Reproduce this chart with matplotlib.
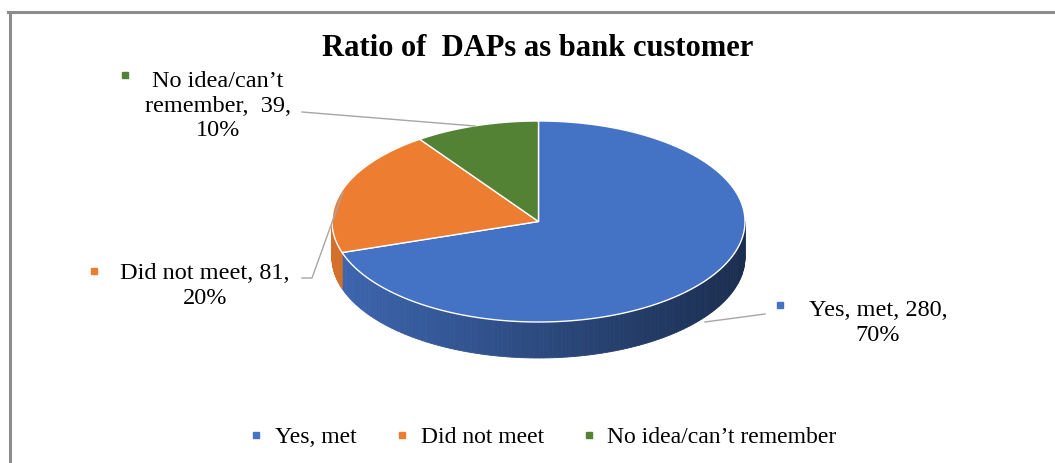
import numpy as np
import matplotlib
matplotlib.use('Agg')
import matplotlib.pyplot as plt
from matplotlib.patches import Polygon
from matplotlib.lines import Line2D
from matplotlib.colors import to_rgb

# data
categories = ['Yes, met', 'Did not meet', 'No idea/can\u2019t remember']
counts = [280, 81, 39]
percents = [70, 20, 10]
colors = ['#4472C4', '#ED7D31', '#548235']
title = 'Ratio of  DAPs as bank customer'

# label text as excel wrapped it
label_texts = [
    'Yes, met, 280,\n70%',
    'Did not meet, 81,\n20%',
    'No idea/can\u2019t\nremember,  39,\n10%',
]

plt.rcParams['font.family'] = ['Liberation Serif', 'DejaVu Serif']

W, H = 1055, 463
fig = plt.figure(figsize=(W / 100, H / 100), dpi=100)
ax = fig.add_axes([0, 0, 1, 1])
ax.set_xlim(0, W)
ax.set_ylim(H, 0)
ax.axis('off')

# chart frame (only top and left edges are visible in the crop)
ax.add_line(Line2D([8, W], [12, 12], color='#8C8C8C', lw=2.2))
ax.add_line(Line2D([9.5, 9.5], [12, H], color='#8C8C8C', lw=2.2))

# 3d pie geometry in pixel space
cx, cy, rx, ry, depth = 538.5, 221.5, 206.5, 100.5, 36


def ell(a):
    a = np.radians(a)
    return cx + rx * np.cos(a), cy - ry * np.sin(a)


total = float(sum(counts))
bounds = []
start = 90.0
for c in counts:
    end = start - c / total * 360.0
    bounds.append((start, end))
    start = end

# side walls first (front half only), shaded left -> right
for (a0, a1), col in zip(bounds, colors):
    base = np.array(to_rgb(col))
    angs = np.linspace(a0, a1, 200)
    for t0, t1 in zip(angs[:-1], angs[1:]):
        tm = (t0 + t1) / 2
        if np.sin(np.radians(tm)) >= 0:
            continue
        x0, y0 = ell(t0)
        x1, y1 = ell(t1)
        frac = ((x0 + x1) / 2 - (cx - rx)) / (2 * rx)
        shade = base * (0.9 - 0.5 * frac)
        ax.add_patch(Polygon([(x0, y0), (x1, y1), (x1, y1 + depth), (x0, y0 + depth)],
                             closed=True, facecolor=shade, edgecolor=shade, lw=0.6))

# top faces
for (a0, a1), col in zip(bounds, colors):
    angs = np.linspace(a0, a1, 200)
    pts = [(cx, cy)] + [ell(t) for t in angs]
    ax.add_patch(Polygon(pts, closed=True, facecolor=col, edgecolor='white', lw=1.0))

# leader lines
lc = '#A6A6A6'
ax.plot([705, 765], [322, 314], color=lc, lw=1)
ax.plot([302, 312, 343], [278, 278, 192], color=lc, lw=1)
ax.plot([302, 475], [112, 126], color=lc, lw=1)

# data labels with small legend keys
lab_pos = [(878, 323), (205, 286), (218, 106)]
key_pos = [(780, 305), (94, 271), (125, 75)]
for txt, (x, y), (kx, ky), col in zip(label_texts, lab_pos, key_pos, colors):
    ax.text(x, y, txt, ha='center', va='center', multialignment='center',
            fontsize=17.5, linespacing=1.2, color='black')
    ax.plot(kx, ky, marker='s', ms=5, color=col, lw=0)

ax.text(538, 48, title, ha='center', va='center', fontsize=22, fontweight='bold')

handles = [Line2D([], [], marker='s', ms=5, lw=0, color=c) for c in colors]
ax.legend(handles, categories, loc='center', bbox_to_anchor=(543 / W, 1 - 437 / H),
          ncol=3, frameon=False, fontsize=17, handlelength=0.6, handletextpad=0.5,
          columnspacing=1.6, borderpad=0)

fig.savefig('out.png', dpi=100, facecolor='white')
